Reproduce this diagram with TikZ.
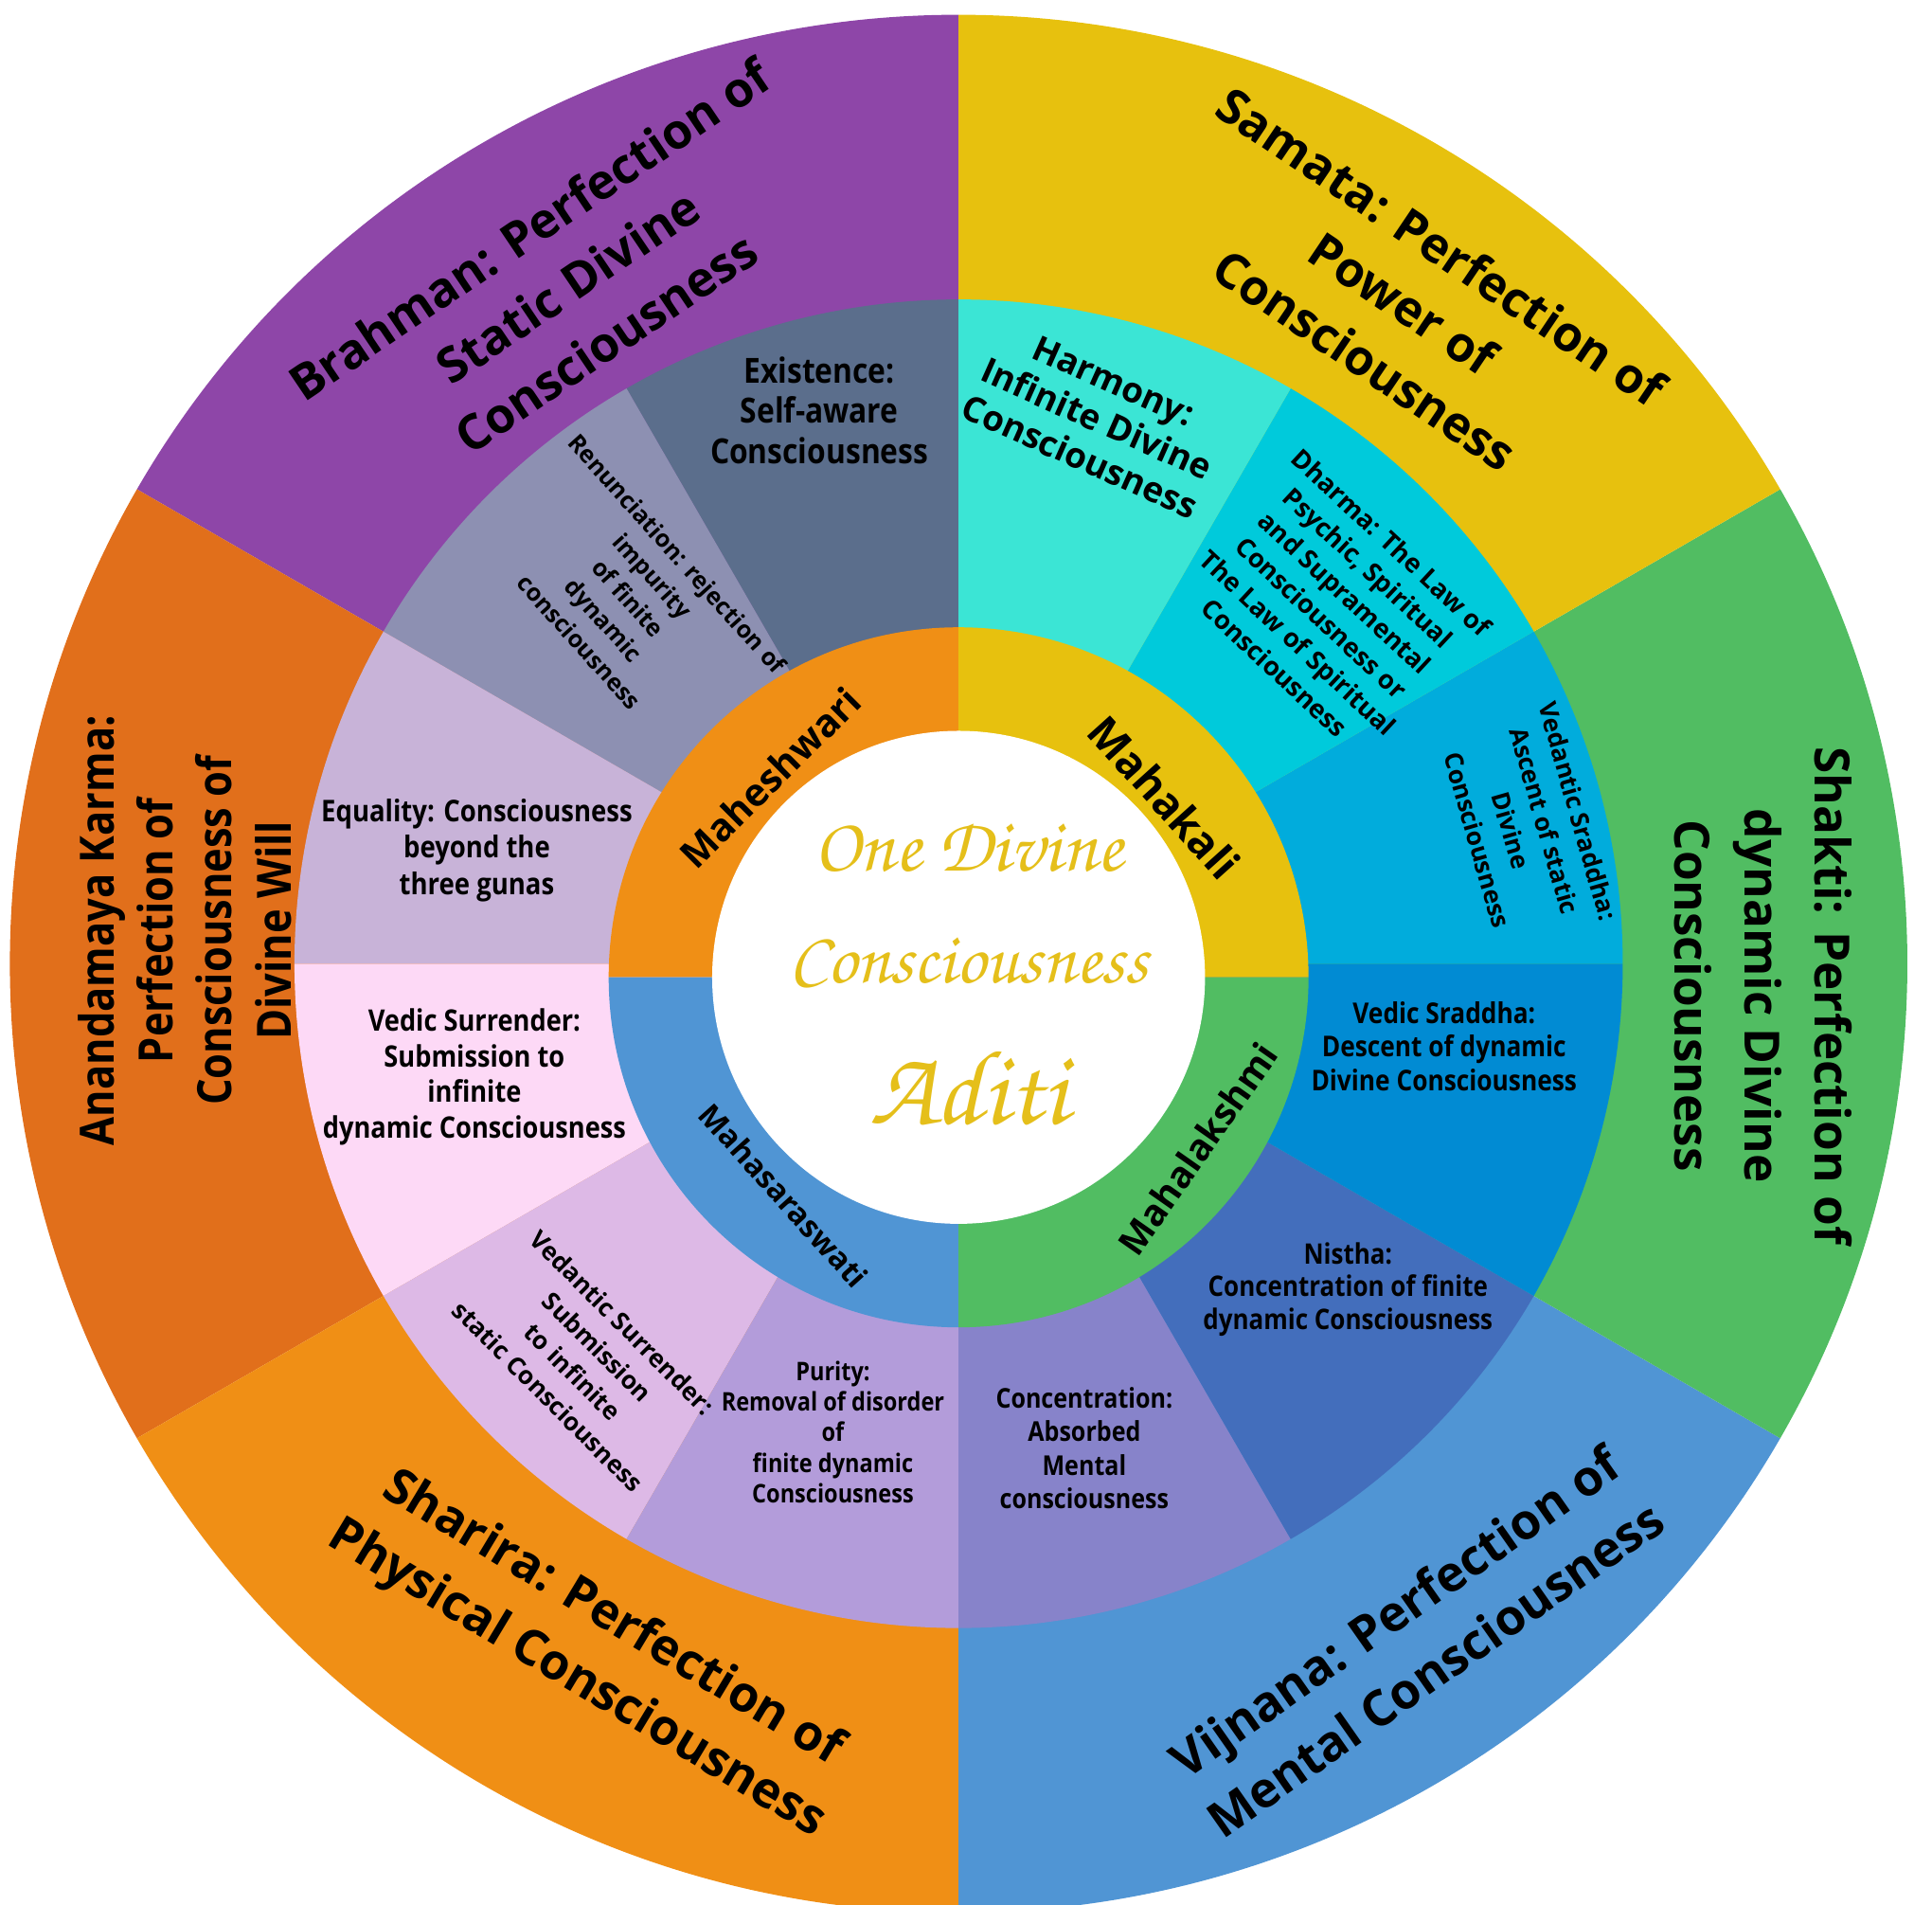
\documentclass[tikz,border=0pt]{standalone}
\usepackage{fontspec}
\setmainfont{Open Sans}
\newfontfamily\condsans[FakeStretch=0.87]{Open Sans}
\usepackage{tikz}
\usetikzlibrary{positioning}

\definecolor{brahmancol}{HTML}{8E46A8}
\definecolor{samatacol}{HTML}{E7C10E}
\definecolor{shakticol}{HTML}{51BD62}
\definecolor{vijnanacol}{HTML}{5095D4}
\definecolor{shariracol}{HTML}{F08F15}
\definecolor{anandacol}{HTML}{E16F1B}
\definecolor{existcol}{HTML}{5B6E8C}
\definecolor{renuncol}{HTML}{8D90B2}
\definecolor{equalcol}{HTML}{C8B3D8}
\definecolor{vsurrcol}{HTML}{FDD9F6}
\definecolor{vdsurrcol}{HTML}{DDB9E6}
\definecolor{puritycol}{HTML}{B39CDA}
\definecolor{conccol}{HTML}{8783CA}
\definecolor{nisthacol}{HTML}{436EBC}
\definecolor{vsradcol}{HTML}{018BD3}
\definecolor{vdsradcol}{HTML}{01ACDC}
\definecolor{dharmacol}{HTML}{00CADB}
\definecolor{harmonycol}{HTML}{3BE5D5}
\definecolor{aditicol}{HTML}{E5BF1A}

\newcommand{\chancery}{\fontencoding{OT1}\fontfamily{pzc}\fontseries{mb}\fontshape{it}\selectfont}

\tikzset{
  every node/.style={inner sep=0pt, align=center},
  outerlbl/.style 2 args={font=\bfseries\fontsize{#1}{#2}\selectfont},
  horlbl/.style 2 args={font=\condsans\bfseries\fontsize{#1}{#2}\selectfont},
  rotlbl/.style 2 args={font=\bfseries\fontsize{#1}{#2}\selectfont},
  godlbl/.style={font=\bfseries\fontsize{#1}{#1}\selectfont},
  centrelbl/.style={text=aditicol, font=\chancery\fontsize{#1}{#1}\selectfont}
}

\begin{document}
\begin{tikzpicture}[x=0.01301cm, y=0.01301cm]
\useasboundingbox (-778,-763) rectangle (790,782);
\clip (-778,-763) rectangle (790,782);

% outer ring
\fill[brahmancol] (0,0) -- (90:770) arc (90:150:770) -- cycle;
\fill[anandacol] (0,0) -- (150:770) arc (150:210:770) -- cycle;
\fill[shariracol] (0,0) -- (210:770) arc (210:270:770) -- cycle;
\fill[vijnanacol] (0,0) -- (270:770) arc (270:330:770) -- cycle;
\fill[shakticol] (0,0) -- (-30:770) arc (-30:30:770) -- cycle;
\fill[samatacol] (0,0) -- (30:770) arc (30:90:770) -- cycle;

% middle ring
\fill[existcol] (0,0) -- (90:539) arc (90:120:539) -- cycle;
\fill[renuncol] (0,0) -- (120:539) arc (120:150:539) -- cycle;
\fill[equalcol] (0,0) -- (150:539) arc (150:180:539) -- cycle;
\fill[vsurrcol] (0,0) -- (180:539) arc (180:210:539) -- cycle;
\fill[vdsurrcol] (0,0) -- (210:539) arc (210:240:539) -- cycle;
\fill[puritycol] (0,0) -- (240:539) arc (240:270:539) -- cycle;
\fill[conccol] (0,0) -- (270:539) arc (270:300:539) -- cycle;
\fill[nisthacol] (0,0) -- (300:539) arc (300:330:539) -- cycle;
\fill[vsradcol] (0,0) -- (330:539) arc (330:360:539) -- cycle;
\fill[vdsradcol] (0,0) -- (0:539) arc (0:30:539) -- cycle;
\fill[dharmacol] (0,0) -- (30:539) arc (30:60:539) -- cycle;
\fill[harmonycol] (0,0) -- (60:539) arc (60:90:539) -- cycle;

% goddess ring
\fill[shariracol] (0,-11) -- ++(90:284) arc (90:180:284) -- cycle;
\fill[vijnanacol] (0,-11) -- ++(180:284) arc (180:270:284) -- cycle;
\fill[shakticol] (0,-11) -- ++(270:284) arc (270:360:284) -- cycle;
\fill[samatacol] (0,-11) -- ++(0:284) arc (0:90:284) -- cycle;
\fill[white] (0,-11) circle (200);

% outer labels
\node (brahman) at (120:635) [outerlbl={14.6}{20.5}, rotate=34] {Brahman: Perfection of\\Static Divine\\Consciousness};
\node (samata) at (361,536) [outerlbl={14.6}{20.5}, rotate=-34] {Samata: Perfection of\\Power of\\Consciousness};
\node (shakti) at (653,-26) [outerlbl={14.6}{21}, rotate=-90] {Shakti: Perfection of\\dynamic Divine\\Consciousness};
\node (vijnana) at (-56:662) [outerlbl={14.8}{21}, rotate=35] {Vijnana: Perfection of\\Mental Consciousness};
\node (sharira) at (-118:630) [outerlbl={14.8}{21}, rotate=-31] {Sharira: Perfection of\\Physical Consciousness};
\node (ananda) at (-628,27) [horlbl={14.2}{17.7}, rotate=90] {Anandamaya Karma:\\Perfection of\\Consciousness of\\Divine Will};

% middle labels
\node (existence) at (-113,449) [horlbl={10.4}{12.2}] {Existence:\\Self-aware\\Consciousness};
\node (harmony) at (112,442) [rotlbl={10.5}{12.5}, rotate=-24] {Harmony:\\Infinite Divine\\Consciousness};
\node (dharma) at (304,291) [rotlbl={7.8}{10.3}, rotate=-43] {Dharma: The Law of\\Psychic, Spiritual\\and Supramental\\Consciousness or\\The Law of Spiritual\\Consciousness};
\node (vdsraddha) at (462,112) [rotlbl={7.5}{10.5}, rotate=-74] {Vedantic Sraddha:\\Ascent of static\\Divine\\Consciousness};
\node (vsraddha) at (394,-67) [horlbl={8.6}{10}] {Vedic Sraddha:\\Descent of dynamic\\Divine Consciousness};
\node (nistha) at (316,-264) [horlbl={8.5}{9.8}] {Nistha:\\Concentration of finite\\dynamic Consciousness};
\node (concent) at (102,-393) [horlbl={8.2}{10}] {Concentration:\\Absorbed\\Mental\\consciousness};
\node (purity) at (-102,-380) [horlbl={7.7}{9.2}] {Purity:\\Removal of disorder\\of\\finite dynamic\\Consciousness};
\node (vdsurr) at (-303,-321) [rotlbl={7.5}{10.5}, rotate=-45] {Vedantic Surrender:\\Submission\\to infinite\\static Consciousness};
\node (vsurr) at (-393,-92) [horlbl={8.9}{10.7}] {Vedic Surrender:\\Submission to\\infinite\\dynamic Consciousness};
\node (equality) at (-391,92) [horlbl={9}{11}] {Equality: Consciousness\\beyond the\\three gunas};
\node (renun) at (-268,297) [rotlbl={7.2}{9.9}, rotate=-48] {Renunciation: rejection of\\impurity\\of finite\\dynamic\\consciousness};

% goddess labels
\node (mahesh) at (-153,151) [godlbl=11.5, rotate=45] {Maheshwari};
\node (mahakali) at (167,135) [godlbl=13, rotate=-48] {Mahakali};
\node (mahalak) at (194,-150) [godlbl=11, rotate=55] {Mahalakshmi};
\node (mahasar) at (-142,-188) [godlbl=9.2, rotate=-48] {Mahasaraswati};

% centre
\node (onediv) at (8,95) [centrelbl=23] {One Divine};
\node (consc) at (8,3) [centrelbl=22] {Consciousness};
\node (aditi) at (8,-100) [centrelbl=32] {Aditi};
\end{tikzpicture}
\end{document}
